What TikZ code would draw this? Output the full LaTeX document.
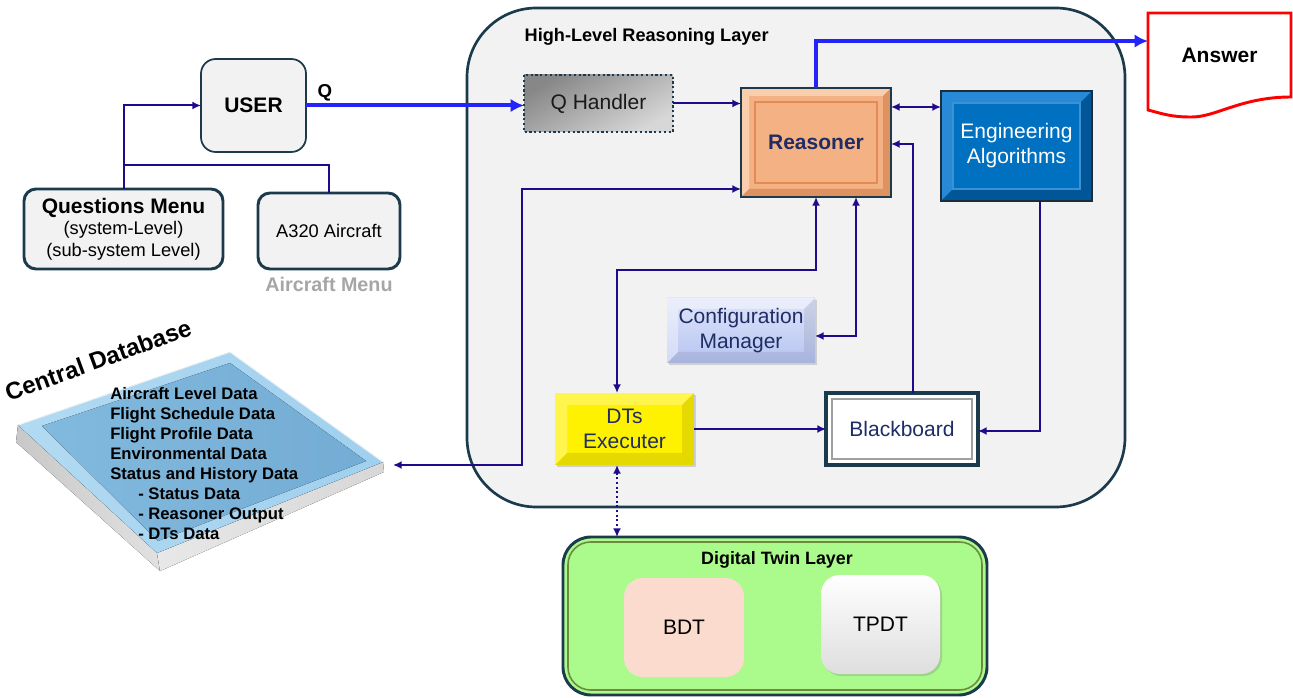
\documentclass[tikz,border=0pt]{standalone}
\usepackage{fontspec}
\setmainfont{Liberation Sans}
\usetikzlibrary{arrows.meta,calc,shadows}
\definecolor{navyc}{RGB}{32,10,140}
\definecolor{qblue}{RGB}{35,35,250}
\definecolor{dteal}{RGB}{27,58,75}
\definecolor{layc}{RGB}{242,242,242}
\definecolor{reas}{RGB}{244,177,131}
\definecolor{reaslight}{RGB}{250,205,172}
\definecolor{reasdark}{RGB}{222,146,98}
\definecolor{reasline}{RGB}{228,138,85}
\definecolor{txtnavy}{RGB}{31,45,100}
\definecolor{engb}{RGB}{0,112,192}
\definecolor{englight}{RGB}{40,138,214}
\definecolor{engdark}{RGB}{0,86,150}
\definecolor{engline}{RGB}{60,145,210}
\definecolor{engborder}{RGB}{28,45,60}
\definecolor{greenl}{RGB}{170,250,140}
\definecolor{olivel}{RGB}{110,139,61}
\definecolor{bdtc}{RGB}{251,219,205}
\definecolor{cfgtop}{RGB}{222,228,250}
\definecolor{cfgbot}{RGB}{182,196,240}
\definecolor{grayA}{RGB}{166,166,166}
\definecolor{grayB}{RGB}{160,160,160}
\definecolor{qhdark}{RGB}{135,135,135}
\definecolor{qhlight}{RGB}{215,215,215}
\definecolor{tpdtbot}{RGB}{222,222,222}
\definecolor{nearblack}{RGB}{25,25,25}
\definecolor{dbA}{RGB}{200,200,200}
\definecolor{dbB}{RGB}{225,225,225}
\definecolor{dbC}{RGB}{232,232,232}
\definecolor{dbD}{RGB}{215,215,215}
\definecolor{dbE}{RGB}{178,218,242}
\definecolor{dbF}{RGB}{160,208,238}
\definecolor{dbG}{RGB}{130,185,222}
\definecolor{dbH}{RGB}{115,172,212}
\newcommand{\bev}[7]{%
 \fill[#6] (#1,#2) -- (#3,#2) -- ({#3-#5},{#2+#5}) -- ({#1+#5},{#2+#5}) -- cycle;
 \fill[#6] (#1,#2) -- ({#1+#5},{#2+#5}) -- ({#1+#5},{#4-#5}) -- (#1,#4) -- cycle;
 \fill[#7] (#3,#2) -- (#3,#4) -- ({#3-#5},{#4-#5}) -- ({#3-#5},{#2+#5}) -- cycle;
 \fill[#7] (#1,#4) -- (#3,#4) -- ({#3-#5},{#4-#5}) -- ({#1+#5},{#4-#5}) -- cycle;}
\tikzset{
  wh/.style 2 args={inner sep=0pt, outer sep=0pt, align=center, minimum width={(#1)*0.75pt}, minimum height={(#2)*0.75pt}},
  menubox/.style={draw=dteal, line width=2.2pt, fill=layc, rounded corners=9pt},
  conn/.style={draw=navyc, line width=1.5pt, >={Latex[length=6.5pt,width=6pt]}},
  qarrow/.style={draw=qblue, line width=3pt, -{Latex[length=10pt,width=10pt]}},
  big/.style={font=\fontsize{15.75}{18.75}\selectfont},
  mid/.style={font=\fontsize{13.7}{16.5}\selectfont},
  softshadow/.style={drop shadow={opacity=0.3,shadow xshift=1.5pt,shadow yshift=-1.5pt}},
}
\begin{document}
\begin{tikzpicture}[x=0.75pt,y=-0.75pt]
\useasboundingbox (0,0) rectangle (1293,698);
% ---------- layers ----------
\path[fill=layc, draw=dteal, line width=2pt, rounded corners=52pt] (467,8) rectangle (1125,507);
\node[anchor=base west, font=\bfseries\fontsize{13.6}{16}\selectfont] (hltitle) at (520,42) {High-Level Reasoning Layer};
\node[wh={424}{158}, fill=greenl, draw=dteal, line width=2.2pt, rounded corners=21pt] (dtl) at (775,616) {};
\draw[draw=olivel, line width=1.2pt, rounded corners=17pt] (568,542) rectangle (982,690);
\node[anchor=base, font=\bfseries\fontsize{13.4}{16}\selectfont] (dttitle) at (777,565) {Digital Twin Layer};
\node[wh={120}{99}, fill=bdtc, rounded corners=14pt, big] (bdt) at (684,627.5) {BDT};
\node[wh={119}{99}, top color=white, bottom color=tpdtbot, rounded corners=14pt, softshadow, big] (tpdt) at (880.5,624.5) {TPDT};
% ---------- left side ----------
\node[wh={105}{93}, draw=dteal, line width=1.3pt, fill=layc, rounded corners=11pt, font=\bfseries\fontsize{15.75}{18}\selectfont] (user) at (253.5,105.5) {USER};
\node[anchor=base, font=\bfseries\fontsize{14}{16}\selectfont] (qlab) at (325,98) {Q};
\node[wh={199}{80}, menubox, mid] (qmenu) at (123.5,229) {{\bfseries\fontsize{15.75}{18}\selectfont Questions Menu}\\[-1pt](system-Level)\\(sub-system Level)};
\node[wh={142}{76}, menubox, mid] (a320) at (329,231) {A320 Aircraft};
\node[anchor=base, text=grayA, font=\bfseries\fontsize{14.8}{17}\selectfont] (acmenu) at (329,292) {Aircraft Menu};
% ---------- central database ----------
\fill[left color=dbA, right color=dbB] (18,425) -- (157,553) -- (160,571) -- (16,442) -- cycle;
\fill[left color=dbC, right color=dbD] (157,553) -- (383,462) -- (384,472) -- (160,571) -- cycle;
\fill[left color=dbE, right color=dbF] (18,425) -- (230,352) -- (383,462) -- (157,553) -- cycle;
\fill[left color=dbG, right color=dbH] (42,426) -- (230,363) -- (366,461) -- (158,541) -- cycle;
\draw[white, line width=0.8pt, opacity=0.8] (18,425) -- (230,352) -- (383,462);
\coordinate (dbin) at (393,465);
\node[rotate=20, anchor=base, font=\bfseries\fontsize{18}{20}\selectfont] (dbtitle) at (101,368) {Central Database};
\node[anchor=north west, inner sep=0pt, align=left, font=\bfseries\fontsize{12.5}{15}\selectfont] (dblist) at (110,387) {Aircraft Level Data\\Flight Schedule Data\\Flight Profile Data\\Environmental Data\\Status and History Data\\\hspace*{21pt}- Status Data\\\hspace*{21pt}- Reasoner Output\\\hspace*{21pt}- DTs Data};
% ---------- reasoning layer components ----------
\node[wh={149}{57}, top color=qhdark, bottom color=qhlight, shading angle=30] (qh) at (598.5,103.5) {};
\draw[dteal, line width=1.6pt, dotted] (qh.north west) rectangle (qh.south east);
\node[big, text=nearblack] (qhtext) at (qh.center) {Q Handler};
% Reasoner
\node[wh={150}{109}, fill=reas] (reasoner) at (816,142.5) {};
\bev{741}{88}{891}{197}{8}{fill=reaslight}{fill=reasdark}
\draw[draw=reasline, line width=0.9pt] (755,102) rectangle (877,183);
\draw[draw=dteal, line width=2pt] (reasoner.north west) rectangle (reasoner.south east);
\node[font=\bfseries\fontsize{15.75}{18}\selectfont, text=txtnavy] (rtext) at (reasoner.center) {Reasoner};
% Engineering algorithms
\node[wh={151}{110}, fill=engb] (eng) at (1016.5,146) {};
\bev{941}{91}{1092}{201}{12}{fill=englight}{fill=engdark}
\draw[draw=engline, line width=0.8pt] (953,103) rectangle (1080,189);
\draw[draw=engborder, line width=2.2pt] (eng.north west) rectangle (eng.south east);
\node[big, text=white, align=center] (etext) at (eng.center) {Engineering\\Algorithms};
% Configuration manager
\node[wh={148}{65}, top color=cfgtop, bottom color=cfgbot, softshadow] (cfg) at (741,330.5) {};
\bev{667}{298}{815}{363}{11}{{fill=white, fill opacity=0.4}}{{fill=black, fill opacity=0.08}}
\node[big, text=txtnavy, align=center] (ctext) at (cfg.center) {Configuration\\Manager};
% DTs executer
\node[wh={139}{72}, fill=yellow, softshadow] (dts) at (624.5,429) {};
\bev{555}{393}{694}{465}{12}{{fill=white, fill opacity=0.3}}{{fill=black, fill opacity=0.1}}
\node[big, text=txtnavy, align=center] (dtext) at (dts.center) {DTs\\Executer};
% Blackboard
\node[wh={152}{72}, fill=white, draw=dteal, line width=2.4pt, big, text=txtnavy] (bb) at (902,429) {Blackboard};
\draw[draw=grayB, line width=1.5pt] (832,399) rectangle (972,459);
% Answer document
\node[wh={143}{85}] (answer) at (1219.5,55.5) {};
\draw[red, line width=2.2pt, fill=white] (1148,110) -- (1148,13) -- (1291,13) -- (1291,97) .. controls (1240,97) and (1215,118) .. (1190,117) .. controls (1170,117) and (1160,113) .. (1148,110) -- cycle;
\node[font=\bfseries\fontsize{15.75}{18}\selectfont] (atext) at (answer.center) {Answer};
% ---------- connectors ----------
\draw[conn,->] (qmenu.north) |- (user.west);
\draw[conn] (a320.north) |- (qmenu.north |- 0,165);
\draw[qarrow] (user.east) -- (user.east -| qh.west);
\draw[conn,->] (qh.east) -- (qh.east -| reasoner.west);
\draw[qarrow] (reasoner.north) |- ($(answer.north west)!0.33!(answer.south west)$);
\draw[conn,<->] (reasoner.east |- 0,107) -- (eng.west |- 0,107);
\draw[conn,->] (bb.north -| 913,0) |- (reasoner.east |- 0,144);
\draw[conn,->] (eng.south -| 1040,0) |- (bb.east |- 0,431);
\draw[conn,<->] (reasoner.south) -- (816,270) -| (dts.north -| 617,0);
\draw[conn,<->] (reasoner.south -| 856,0) |- (cfg.east |- 0,336);
\draw[conn,<->] (dbin) -- (522,465) |- (reasoner.west |- 0,189);
\draw[conn,->] (dts.east) -- (bb.west);
\draw[conn,dotted,<->] (dts.south -| 617,0) -- (dtl.north -| 617,0);
\end{tikzpicture}
\end{document}
